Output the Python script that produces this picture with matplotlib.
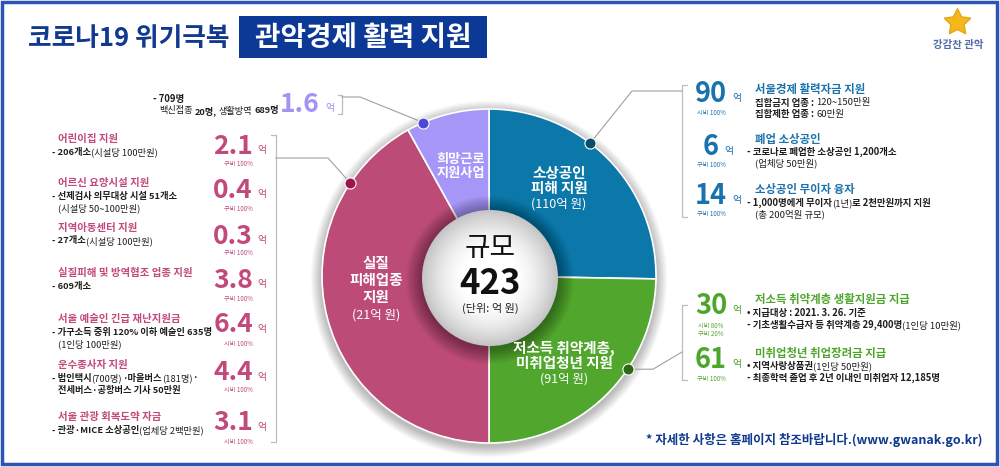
import re
import numpy as np
import matplotlib.pyplot as plt
from matplotlib.patches import Circle, Rectangle
from matplotlib.colors import to_rgb

plt.rcParams['font.family'] = ['Noto Sans CJK KR', 'DejaVu Sans']

# ---- pie data (clockwise from 12 o'clock) ----
sector_names = ['소상공인\n피해 지원', '저소득 취약계층,\n미취업청년 지원', '실질\n피해업종\n지원', '희망근로\n지원사업']
sector_amounts = ['(110억 원)', '(91억 원)', '(21억 원)', '']
sector_sizes = [91, 89, 151, 29]   # slice widths as drawn in the picture
sector_colors = ['#0b78a9', '#51a72d', '#bc4b77', '#a696f7']
dot_colors = ['#0b4c6b', '#2b6a12', '#9c1649', '#4f47d6']
total = 423

# ---- left (pink) items ----
left_titles = ['어린이집 지원', '어르신 요양시설 지원', '지역아동센터 지원', '실질피해 및 방역협조 업종 지원',
               '서울 예술인 긴급 재난지원금', '운수종사자 지원', '서울 관광 회복도약 자금']
left_lines = [['- 206개소(시설당 100만원)'],
              ['- 선제검사 의무대상 시설 51개소', '(시설당 50~100만원)'],
              ['- 27개소(시설당 100만원)'],
              ['- 609개소'],
              ['- 가구소득 중위 120% 이하 예술인 635명', '(1인당 100만원)'],
              ['- 법인택시(700명)·마을버스(181명)·', '전세버스·공항버스 기사 50만원'],
              ['- 관광·MICE 소상공인(업체당 2백만원)']]
left_values = [2.1, 0.4, 0.3, 3.8, 6.4, 4.4, 3.1]
left_funds = ['구비 100%', '구비 100%', '구비 100%', '구비 100%', '시비 100%', '시비 100%', '시비 100%']

# ---- purple item ----
hope_value = 1.6
hope_lines = ['- 709명', '{백신접종} 20명, {생활방역} 689명']

# ---- right (blue) items ----
blue_titles = ['서울경제 활력자금 지원', '폐업 소상공인', '소상공인 무이자 융자']
blue_lines = [['집합금지 업종 : {120~150만원}', '집합제한 업종 : {60만원}'],
              ['- 코로나로 폐업한 소상공인 1,200개소', '(업체당 50만원)'],
              ['- 1,000명에게 무이자(1년)로 2천만원까지 지원', '(총 200억원 규모)']]
blue_values = [90, 6, 14]
blue_funds = ['시비 100%', '구비 100%', '구비 100%']

# ---- right (green) items ----
green_titles = ['저소득 취약계층 생활지원금 지급', '미취업청년 취업장려금 지급']
green_lines = [['• 지급대상 : 2021. 3. 26. 기준', '- 기초생활수급자 등 취약계층 29,400명(1인당 10만원)'],
               ['• 지역사랑상품권(1인당 50만원)', '- 최종학력 졸업 후 2년 이내인 미취업자 12,185명']]
green_values = [30, 61]
green_funds = ['시비 80%\n구비 20%', '구비 100%']

NAVY = '#10398f'
PINK = '#c2497b'
BLUE = '#1a72ad'
GREEN = '#4ea52b'
PURPLE = '#a393f4'
INK = '#1e1e1e'
LINE = '#a0a0a0'

fig = plt.figure(figsize=(10, 4.67), dpi=100)
ax = fig.add_axes([0, 0, 1, 1])
rend = fig.canvas.get_renderer()

CX, CY, R = 489, 276, 167

# soft shadow behind the pie
for k in range(14, 0, -1):
    ax.add_patch(Circle((CX, CY + 3), R + k * 0.8, color='k', alpha=0.018, lw=0, zorder=1))

wedges, _ = ax.pie(sector_sizes, colors=sector_colors, startangle=-90, counterclock=True,
                   center=(CX, CY), radius=R, frame=True,
                   wedgeprops=dict(edgecolor='white', linewidth=1.2, zorder=2))

# fix the pixel-like coordinate system before measuring any text
ax.set_xlim(0, 1000)
ax.set_ylim(467, 0)
ax.set_aspect('auto')
ax.axis('off')

# white hub with shadow and radial shading
HX, HY, HR = 490, 278, 68
for k in range(16, 0, -1):
    ax.add_patch(Circle((HX, HY + 2), HR + k, color='k', alpha=0.022, lw=0, zorder=3))
c_edge, c_mid = np.array(to_rgb('#c4c4c4')), np.array(to_rgb('#ffffff'))
for i in range(40):
    f = i / 39
    r = HR * (1 - 0.62 * f)
    ax.add_patch(Circle((HX, HY), r, color=c_edge * (1 - f) ** 1.6 + c_mid * (1 - (1 - f) ** 1.6), lw=0, zorder=4))

ax.text(HX, 248, '규모', fontsize=20, ha='center', va='center', color='#111111', zorder=5)
ax.text(HX, 284, str(total), fontsize=25, fontweight='bold', ha='center', va='center', color='#111111', zorder=5)
ax.text(HX, 308, '(단위: 억 원)', fontsize=8, ha='center', va='center', color='#222222', zorder=5)

# labels inside the slices
label_pos = [(559, 173), (564, 348), (376, 263), (461, 159)]
label_step = [15, 15, 17, 14]
label_size = [10.5, 10.5, 10.5, 9.5]
for name, amt, (lx, ly), st, fs in zip(sector_names, sector_amounts, label_pos, label_step, label_size):
    rows = name.split('\n')
    for j, row in enumerate(rows):
        ax.text(lx, ly + j * st, row, fontsize=fs, fontweight='bold', color='white',
                ha='center', va='center', zorder=5)
    if amt:
        ax.text(lx, ly + len(rows) * st + 1, amt, fontsize=9, color='white', ha='center', va='center', zorder=5)

# dots on the rim
dot_frac = [0.41, 0.37, 0.82, 0.2]
start = 90.0
dots = []
for size, fr, dc in zip(sector_sizes, dot_frac, dot_colors):
    a = np.radians(start - fr * size)
    dx, dy = CX + R * np.cos(a), CY - R * np.sin(a)
    dots.append((dx, dy))
    ax.plot(dx, dy, 'o', ms=8, color=dc, mec='white', mew=0.8, zorder=6)
    start -= size

# leader lines and brackets
elbows = [[(632, 91), (682, 91)], [(653, dots[1][1]), (682, 352)],
          [(328, 158), (276, 158)], [(360, 97), (342, 97)]]
for (dx, dy), el in zip(dots, elbows):
    xs = [dx] + [p[0] for p in el]
    ys = [dy] + [p[1] for p in el]
    ax.plot(xs, ys, color=LINE, lw=0.8, zorder=5.5)


def bracket(x, y0, y1, d):
    ax.plot([x + d, x, x, x + d], [y0, y0, y1, y1], color='#bdbdbd', lw=0.9)


bracket(342, 95, 114, -4)
bracket(276, 135, 442, -5)
bracket(682, 85, 217, 5)
bracket(682, 305, 380, 5)

TOK = re.compile(r'(\([^)]*\)|\{[^}]*\})')


def rich(x, y, s, size, color=INK):
    space = 0.23 * size * 100 / 72
    for part in TOK.split(s):
        if not part:
            continue
        weight = 'bold'
        if part.startswith('{'):
            part, weight = part[1:-1], 'normal'
        elif part.startswith('('):
            weight = 'normal'
        core = part.strip()
        if not core:
            x += space
            continue
        if part.startswith(' '):
            x += space
        t = ax.text(x, y, core, fontsize=size, fontweight=weight, color=color, ha='left', va='center')
        x += t.get_window_extent(rend).width
        if part.endswith(' '):
            x += space


# left column
left_ty = [139, 183, 228, 273, 319, 365, 417]
left_ny = [146, 190, 236, 280, 325, 373, 423]
left_fy = [164, 209, 253, 299, 344, 390, 442]
for title, lines, v, fund, ty, ny, fy in zip(left_titles, left_lines, left_values, left_funds,
                                             left_ty, left_ny, left_fy):
    ax.text(58, ty, title, fontsize=7.5, fontweight='bold', color=PINK, ha='left', va='center')
    for j, ln in enumerate(lines):
        rich(52 if ln.startswith('- ') else 58, ty + 13 + j * 12, ln, 6.7)
    ax.text(253, ny, f'{v:.1f}', fontsize=19, fontweight='bold', color=PINK, ha='right', va='center')
    ax.text(257, ny + 4, '억', fontsize=7, color=PINK, ha='left', va='center')
    ax.text(238, fy, fund, fontsize=4.5, color=PINK, ha='center', va='center')

# purple note
rich(153, 99, hope_lines[0], 6.8)
rich(159, 111, hope_lines[1], 6.6)
ax.text(320, 105, f'{hope_value:.1f}', fontsize=19, fontweight='bold', color=PURPLE, ha='right', va='center')
ax.text(325, 108, '억', fontsize=7, color=PURPLE, ha='left', va='center')


def right_block(titles, lines_all, values, funds, ty_list, ny_list, fy_list, color, step):
    for title, lines, v, fund, ty, ny, fy in zip(titles, lines_all, values, funds, ty_list, ny_list, fy_list):
        ax.text(755, ty, title, fontsize=8.2, fontweight='bold', color=color, ha='left', va='center')
        for j, ln in enumerate(lines):
            hang = ln.startswith('- ') or ln.startswith('• ')
            rich(747 if hang else 755, ty + 13 + j * step, ln, 6.8)
        t = ax.text(711, ny, str(v), fontsize=19.5, fontweight='bold', color=color, ha='center', va='center')
        x1 = t.get_window_extent(rend).x1
        ax.text(x1 + 5, ny + 4, '억', fontsize=7, color=color, ha='left', va='center')
        ax.text(711, fy, fund, fontsize=4.5, color=color, ha='center', va='center', linespacing=1.05)


right_block(blue_titles, blue_lines, blue_values, blue_funds,
            [90, 139, 190], [94, 147, 196], [113, 165, 214], BLUE, 11.5)
right_block(green_titles, green_lines, green_values, green_funds,
            [300, 353], [306, 360], [330, 379], GREEN, 12)

# header
ax.text(28, 39, '코로나19 위기극복', fontsize=18.5, fontweight='bold', color=NAVY, ha='left', va='center')
ax.add_patch(Rectangle((239, 16), 248, 42, color='#0c3896', lw=0))
ax.text(363, 38, '관악경제 활력 지원', fontsize=20, fontweight='bold', color='white', ha='center', va='center')

# logo
ax.plot(957, 22, marker=(5, 1, 0), ms=20, color='#f4b81c', mec='#e7a70f')
ax.text(958, 45, '강감찬 관악', fontsize=7.5, fontweight='bold', color='#506ca8', ha='center', va='center')

# footer
ax.text(983, 440, '* 자세한 사항은 홈페이지 참조바랍니다.(www.gwanak.go.kr)', fontsize=9,
        fontweight='bold', color=NAVY, ha='right', va='center')

# frame
ax.add_patch(Rectangle((1.5, 1.5), 995, 462, fill=False, ec='#2c55b5', lw=2.5))

fig.savefig('out.png', dpi=100)
